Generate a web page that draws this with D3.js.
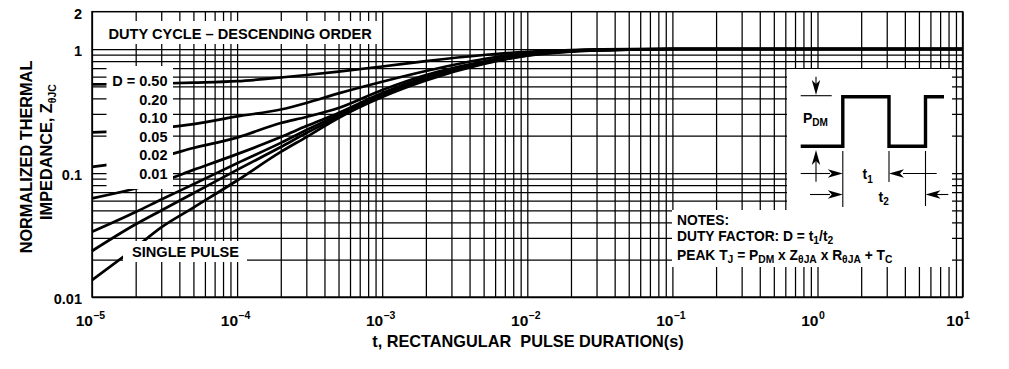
<!DOCTYPE html>
<html>
<head>
<meta charset="utf-8">
<script src="https://cdn.jsdelivr.net/npm/d3@7"></script>
<style>
  body { margin: 0; background: #fff; }
  svg { display: block; }
  text { font-family: "Liberation Sans", Arial, Helvetica, sans-serif; font-weight: bold; fill: #000; white-space: pre; }
</style>
</head>
<body>
<svg id="chart" width="1009" height="369"></svg>
<script>
// ---------------- DATA ----------------
const pulseDurations = [1e-5, 2e-5, 3e-5, 5e-5, 1e-4, 2e-4, 3e-4, 5e-4, 1e-3, 2e-3, 5e-3, 1e-2, 2e-2, 5e-2, 1e-1, 1, 10];
const zD050 = [0.519, 0.522, 0.527, 0.535, 0.550, 0.589, 0.617, 0.658, 0.723, 0.800, 0.895, 0.951, 0.982, 1.0, 1.0, 1.0, 1.0];
const zD020 = [0.213, 0.222, 0.231, 0.248, 0.286, 0.325, 0.367, 0.439, 0.545, 0.665, 0.831, 0.928, 0.976, 0.996, 1.0, 1.0, 1.0];
const zD010 = [0.112, 0.126, 0.136, 0.159, 0.193, 0.253, 0.283, 0.334, 0.467, 0.617, 0.793, 0.911, 0.969, 0.994, 1.0, 1.0, 1.0];
const zD005 = [0.0625, 0.075, 0.0854, 0.106, 0.142, 0.195, 0.239, 0.305, 0.442, 0.594, 0.778, 0.903, 0.964, 0.991, 1.0, 1.0, 1.0];
const zD002 = [0.0336, 0.0485, 0.0611, 0.0812, 0.120, 0.175, 0.222, 0.294, 0.426, 0.578, 0.771, 0.895, 0.960, 0.991, 1.0, 1.0, 1.0];
const zD001 = [0.0235, 0.0386, 0.0499, 0.0687, 0.106, 0.162, 0.210, 0.283, 0.418, 0.568, 0.764, 0.890, 0.958, 0.989, 1.0, 1.0, 1.0];
const zSingle = [0.0137, 0.0251, 0.0364, 0.0526, 0.087, 0.148, 0.195, 0.278, 0.410, 0.557, 0.757, 0.886, 0.954, 0.987, 1.0, 1.0, 1.0];
const dutyLabels = ["D = 0.50", "0.20", "0.10", "0.05", "0.02", "0.01"];
const xTickExponents = [-5, -4, -3, -2, -1, 0, 1];
const yTickValues = [0.01, 0.1, 1, 2];
const yTickLabels = ["0.01", "0.1", "1", "2"];

// ---------------- LAYOUT ----------------
const svg = d3.select("#chart");
const x = d3.scaleLog().domain([1e-5, 10]).range([92, 962.6]);
const y = d3.scaleLog().domain([0.01, 2]).range([297, 11.7]);
const plotTop = y(2), plotBottom = y(0.01), plotLeft = x(1e-5), plotRight = x(10);

// grid values
const vGrid = [];
for (let e = -5; e <= 0; e++) for (let m = 1; m <= 9; m++) vGrid.push(+(m + "e" + e));
vGrid.push(10);
const hGrid = [];
for (let e = -2; e <= -1; e++) for (let m = 1; m <= 9; m++) hGrid.push(+(m + "e" + e));
hGrid.push(1);

// vertical grid via axis
const gx = svg.append("g").attr("transform", `translate(0,${plotBottom})`)
  .call(d3.axisBottom(x).tickValues(vGrid).tickSize(-(plotBottom - plotTop)).tickFormat(""));
gx.select(".domain").remove();
gx.selectAll(".tick line").attr("stroke", "#000").attr("stroke-width", 1.25);

const gy = svg.append("g").attr("transform", `translate(${plotLeft},0)`)
  .call(d3.axisLeft(y).tickValues(hGrid).tickSize(-(plotRight - plotLeft)).tickFormat(""));
gy.select(".domain").remove();
gy.selectAll(".tick line").attr("stroke", "#000").attr("stroke-width", 1.25);

// curves
const seriesList = [zD050, zD020, zD010, zD005, zD002, zD001, zSingle];
const line = d3.line().x(d => x(d[0])).y(d => y(d[1])).curve(d3.curveMonotoneX);
svg.append("g").selectAll("path").data(seriesList).join("path")
  .attr("d", s => line(pulseDurations.map((t, i) => [t, s[i]])))
  .attr("fill", "none").attr("stroke", "#000").attr("stroke-width", 2.7)
  .attr("stroke-linejoin", "round").attr("stroke-linecap", "butt");

// white label boxes
const boxes = svg.append("g").attr("fill", "#fff");
boxes.append("rect").attr("x", 97).attr("y", 21).attr("width", 281).attr("height", 23);   // duty cycle title
boxes.append("rect").attr("x", 106.5).attr("y", 66).attr("width", 66.5).attr("height", 123); // D legend
boxes.append("rect").attr("x", 123).attr("y", 241).attr("width", 124).attr("height", 21);  // single pulse
boxes.append("rect").attr("x", 787).attr("y", 69).attr("width", 165).attr("height", 145);  // pulse diagram
boxes.append("rect").attr("x", 672).attr("y", 210).attr("width", 280).attr("height", 57);  // notes

// frame
svg.append("rect").attr("x", plotLeft).attr("y", plotTop)
  .attr("width", plotRight - plotLeft).attr("height", plotBottom - plotTop)
  .attr("fill", "none").attr("stroke", "#000").attr("stroke-width", 1.5);

// y tick labels
svg.append("g").selectAll("text").data(yTickValues).join("text")
  .attr("x", 82).attr("y", d => y(d) + 7).attr("text-anchor", "end")
  .style("font-size", "14.5px").text((d, i) => yTickLabels[i]);

// x tick labels 10^n
const xl = svg.append("g");
xTickExponents.forEach(e => {
  const px = x(Math.pow(10, e));
  xl.append("text").attr("x", px + 1).attr("y", 326).attr("text-anchor", "end")
    .style("font-size", "15.5px").text("10");
  xl.append("text").attr("x", px + 1.5).attr("y", 318.5)
    .style("font-size", "10.5px").text(e < 0 ? "\u2013" + (-e) : String(e));
});

// x axis title
svg.append("text").attr("x", 528).attr("y", 347).attr("text-anchor", "middle")
  .style("font-size", "16.3px").text("t, RECTANGULAR  PULSE DURATION(s)");

// y axis title
svg.append("text").attr("transform", "translate(32,157) rotate(-90)").attr("text-anchor", "middle")
  .style("font-size", "16.3px").text("NORMALIZED THERMAL");
const yt2 = svg.append("text").attr("transform", "translate(52,152) rotate(-90)").attr("text-anchor", "middle")
  .style("font-size", "16.3px");
yt2.append("tspan").text("IMPEDANCE, Z");
yt2.append("tspan").attr("dy", 4).style("font-size", "10.5px").text("\u03B8JC");

// duty cycle title
svg.append("text").attr("x", 108.5).attr("y", 38.5).style("font-size", "14.6px")
  .text("DUTY CYCLE \u2013 DESCENDING ORDER");

// D legend labels
svg.append("g").selectAll("text").data(dutyLabels).join("text")
  .attr("x", 167.5).attr("y", (d, i) => 86 + i * 18.6).attr("text-anchor", "end")
  .style("font-size", "14.5px").text(d => d);

// single pulse label
svg.append("text").attr("x", 132).attr("y", 257).style("font-size", "14.6px").text("SINGLE PULSE");

// rich text helper (parts: string = normal, [string] = subscript)
function rich(xp, yp, size, subSize, parts) {
  const t = svg.append("text").attr("x", xp).attr("y", yp).style("font-size", size + "px");
  let shifted = false;
  parts.forEach(p => {
    if (Array.isArray(p)) {
      t.append("tspan").attr("dy", shifted ? 0 : 3.5).style("font-size", subSize + "px").text(p[0]);
      shifted = true;
    } else {
      t.append("tspan").attr("dy", shifted ? -3.5 : 0).text(p);
      shifted = false;
    }
  });
  return t;
}

// notes
rich(677, 225, 13.8, 10.3, ["NOTES:"]);
rich(677, 240.5, 13.8, 10.3, ["DUTY FACTOR: D = t", ["1"], "/t", ["2"]]);
rich(677, 259.5, 13.8, 10.3, ["PEAK T", ["J"], " = P", ["DM"], " x Z", ["\u03B8JA"], " x R", ["\u03B8JA"], " + T", ["C"]]);

// pulse diagram
const pd = svg.append("g");
const hiY = 96.7, loY = 146.2, xr1 = 842.8, xf1 = 889, xr2 = 925.5;
pd.append("path")
  .attr("d", `M800.7,${loY}H${xr1}V${hiY}H${xf1}V${loY}H${xr2}V${hiY}H944`)
  .attr("fill", "none").attr("stroke", "#000").attr("stroke-width", 3.4).attr("stroke-linejoin", "miter");
const thin = (x1, y1, x2, y2) => pd.append("line").attr("x1", x1).attr("y1", y1).attr("x2", x2).attr("y2", y2)
  .attr("stroke", "#000").attr("stroke-width", 1.1);
thin(800.7, 95.7, 831.7, 95.7);
thin(816, 76.7, 816, 90);
thin(816, 156, 816, 181.7);
thin(xr1, 151, xr1, 207);
thin(xf1, 151, xf1, 182);
thin(xr2, 151, xr2, 206);
thin(800.7, 173.5, 830, 173.5);
thin(903, 173.5, 936.7, 173.5);
thin(810, 194.5, 830, 194.5);
thin(935, 194.5, 948.3, 194.5);
// arrowheads: tip (tx,ty), direction (dx,dy)
function arrow(tx, ty, dx, dy) {
  const L = 15, W = 4.2, N = 11;
  const px = -dy, py = dx;
  const p = [[tx, ty],
             [tx - dx * L + px * W, ty - dy * L + py * W],
             [tx - dx * N, ty - dy * N],
             [tx - dx * L - px * W, ty - dy * L - py * W]];
  pd.append("path").attr("d", "M" + p.map(q => q.join(",")).join("L") + "Z").attr("fill", "#000");
}
arrow(816, 95, 0, 1);
arrow(816, 150, 0, -1);
arrow(xr1, 173.5, 1, 0);
arrow(xf1, 173.5, -1, 0);
arrow(xr1, 194.5, 1, 0);
arrow(xr2, 194.5, -1, 0);
rich(803, 122.7, 14, 10, ["P", ["DM"]]);
rich(862.5, 179, 14, 10, ["t", ["1"]]);
rich(878.5, 201.5, 14, 10, ["t", ["2"]]);
</script>
</body>
</html>
